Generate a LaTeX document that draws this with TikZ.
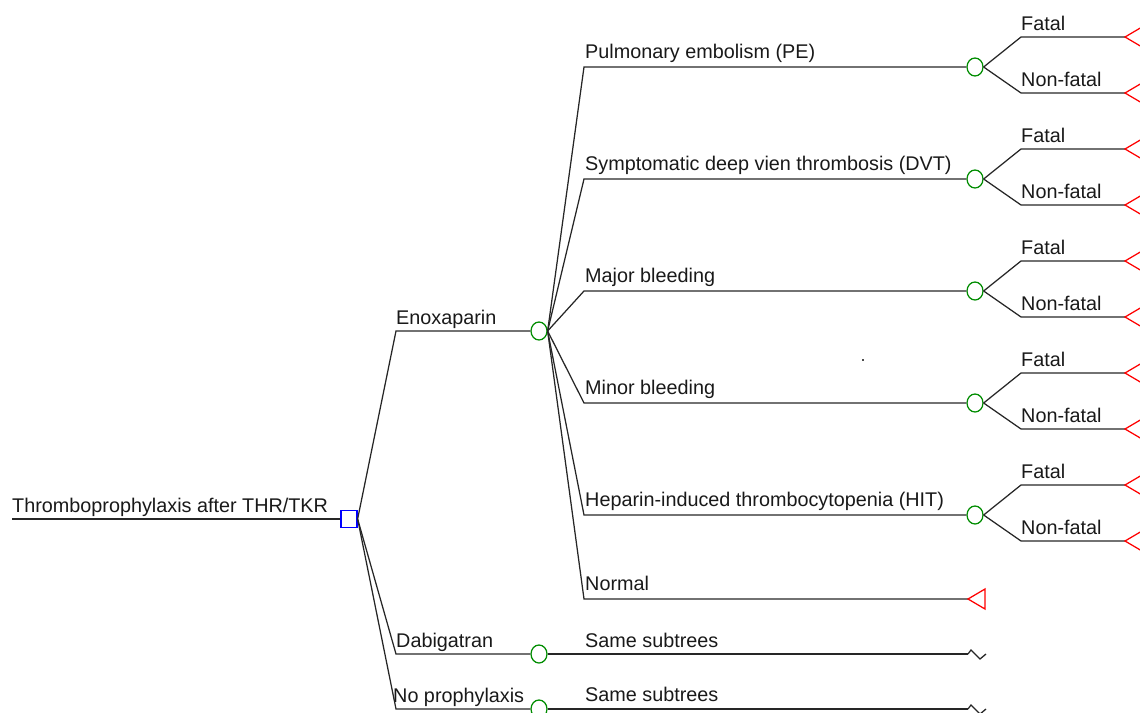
\documentclass[tikz,border=0pt]{standalone}
\usepackage{fontspec}
\setmainfont{Liberation Sans}
\usetikzlibrary{shapes.geometric}
\begin{document}
\begin{tikzpicture}[x=1pt,y=-1pt,
  br/.style={line width=1.25pt, black!85},
  lbl/.style={anchor=base west, inner sep=0pt, font=\fontsize{19.8}{22}\selectfont, text=black!90},
  chance/.style={draw=green!55!black, line width=1.25pt, ellipse, minimum width=16pt, minimum height=18pt, inner sep=0pt},
  decision/.style={draw=blue, line width=1.25pt, rectangle, minimum width=16pt, minimum height=17pt, inner sep=0pt},
  term/.style={draw=red, line width=1.25pt},
  zig/.style={line width=1.25pt, black!85}
]
\clip (0,0) rectangle (1140,712);
\useasboundingbox (0,0) rectangle (1140,712);
% root
\coordinate (root) at (12,519);
\node[decision] (dec) at (349,519) {};
\draw[br] (root) -- (dec.west);
\node[lbl] (rootlbl) at (12,512) {Thromboprophylaxis after THR/TKR};
% first-level strategies
\coordinate (kE) at (396,331);
\coordinate (kD) at (396,654);
\coordinate (kN) at (396,709);
\node[chance] (cE) at (539,331) {};
\node[chance] (cD) at (539,654) {};
\node[chance] (cN) at (539,709) {};
\draw[br] (dec.east) -- (kE) -- (cE.west);
\draw[br] (dec.east) -- (kD) -- (cD.west);
\draw[br] (dec.east) -- (kN) -- (cN.west);
\node[lbl] (lE) at (396,324) {Enoxaparin};
\node[lbl] (lD) at (396,647) {Dabigatran};
\node[lbl] (lN) at (393,702) {No prophylaxis};
% same subtrees
\coordinate (sD) at (968,654);
\coordinate (sN) at (968,709);
\draw[br] (cD.east) -- (sD);
\draw[br] (cN.east) -- (sN);
\draw[zig] (sD) -- ++(3,-4) -- ++(9,9) -- ++(6,-5);
\draw[zig] (sN) -- ++(3,-4) -- ++(9,9) -- ++(6,-5);
\node[lbl] (ssD) at (585,647) {Same subtrees};
\node[lbl] (ssN) at (585,701) {Same subtrees};
% events under Enoxaparin
\foreach \y/\name/\txt in {67/pe/Pulmonary embolism (PE),
                          179/dvt/Symptomatic deep vien thrombosis (DVT),
                          291/maj/Major bleeding,
                          403/min/Minor bleeding,
                          515/hit/Heparin-induced thrombocytopenia (HIT)}{
  \coordinate (k\name) at (584,\y);
  \node[chance] (c\name) at (975,\y) {};
  \draw[br] (cE.east) -- (k\name) -- (c\name.west);
  \node[lbl] (l\name) at (585,\y-9) {\txt};
  % fatal / non-fatal
  \coordinate (kf\name) at (1021,\y-30);
  \coordinate (kn\name) at (1021,\y+26);
  \coordinate (tf\name) at (1125,\y-30);
  \coordinate (tn\name) at (1125,\y+26);
  \draw[br] (c\name.east) -- (kf\name) -- (tf\name);
  \draw[br] (c\name.east) -- (kn\name) -- (tn\name);
  \draw[term] (tf\name) -- ++(17,-10) -- ++(0,20) -- cycle;
  \draw[term] (tn\name) -- ++(17,-10) -- ++(0,20) -- cycle;
  \node[lbl] (lf\name) at (1021,\y-37) {Fatal};
  \node[lbl] (ln\name) at (1021,\y+19) {Non-fatal};
}
% normal
\coordinate (knorm) at (584,599);
\coordinate (tnorm) at (968,599);
\draw[br] (cE.east) -- (knorm) -- (tnorm);
\draw[term] (tnorm) -- ++(17,-10) -- ++(0,20) -- cycle;
\node[lbl] (lnorm) at (585,590) {Normal};
% stray dot
\fill[black!70] (862,359) rectangle (864,361);
\end{tikzpicture}
\end{document}
